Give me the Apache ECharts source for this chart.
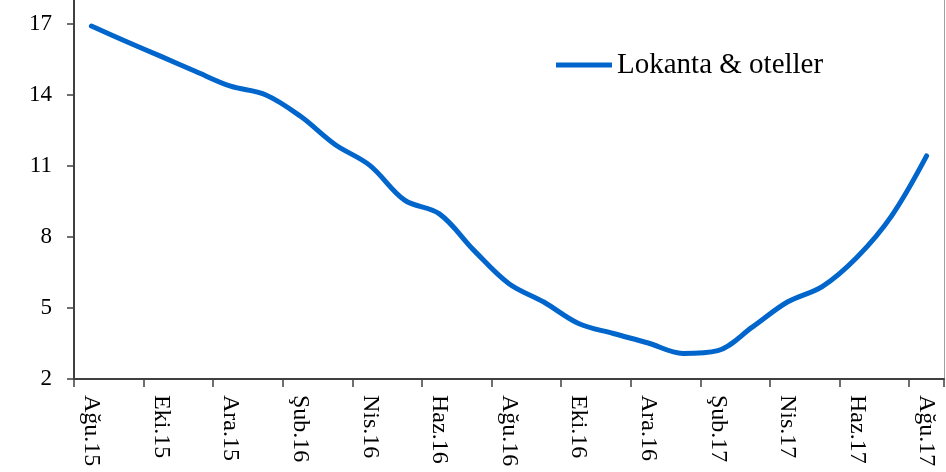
<!DOCTYPE html>
<html>
<head>
<meta charset="utf-8">
<script src="https://cdn.jsdelivr.net/npm/echarts@6/dist/echarts.min.js"></script>
<style>
  html, body { margin: 0; padding: 0; background: #fff; }
  #chart { width: 946px; height: 472px; }
</style>
</head>
<body>
<div id="chart"></div>
<script>
// aylar (Ağu.15 - Ağu.17)
var months = ['Ağu.15', 'Eyl.15', 'Eki.15', 'Kas.15', 'Ara.15', 'Oca.16', 'Şub.16', 'Mar.16',
  'Nis.16', 'May.16', 'Haz.16', 'Tem.16', 'Ağu.16', 'Eyl.16', 'Eki.16', 'Kas.16', 'Ara.16',
  'Oca.17', 'Şub.17', 'Mar.17', 'Nis.17', 'May.17', 'Haz.17', 'Tem.17', 'Ağu.17'];
var lokanta = [16.9, 16.25, 15.62, 14.98, 14.36, 14.0, 13.1, 11.9, 11.02, 9.55, 8.97, 7.42,
  6.02, 5.25, 4.34, 3.92, 3.52, 3.08, 3.2, 4.2, 5.25, 5.9, 7.14, 8.9, 11.42];
var seriesName = 'Lokanta & oteller';
var yMin = 2, yMax = 18, yStep = 3;

var font = '"Liberation Serif", "Times New Roman", serif';
var axisColor = '#404040';

var myChart = echarts.init(document.getElementById('chart'));
myChart.setOption({
  animation: false,
  grid: { left: 74, right: 2, top: -2, bottom: 93, containLabel: false },
  legend: {
    data: [seriesName],
    left: 556,
    top: 50,
    padding: 0,
    icon: 'rect',
    itemWidth: 56,
    itemHeight: 5,
    textStyle: { fontFamily: font, fontSize: 29, color: '#000', lineHeight: 30 }
  },
  xAxis: {
    type: 'category',
    data: months,
    boundaryGap: true,
    axisLine: { lineStyle: { color: axisColor, width: 2 } },
    axisTick: { show: true, interval: 1, length: 8, lineStyle: { color: axisColor, width: 1.5 } },
    axisLabel: {
      interval: 1,
      rotate: -90,
      margin: 16,
      fontFamily: font,
      fontSize: 24,
      color: '#000'
    },
    splitLine: { show: false }
  },
  yAxis: [{
    type: 'value',
    min: yMin,
    max: yMax,
    interval: yStep,
    axisLine: { show: true, lineStyle: { color: axisColor, width: 2 } },
    axisTick: { show: true, length: 7, lineStyle: { color: axisColor, width: 1.5 } },
    axisLabel: { margin: 22, fontFamily: font, fontSize: 23, color: '#000', showMaxLabel: false },
    splitLine: { show: false }
  }, {
    type: 'value',
    position: 'right',
    min: yMin,
    max: yMax,
    interval: yStep,
    axisLine: { show: true, lineStyle: { color: '#a0a0a0', width: 1 } },
    axisTick: { show: false },
    axisLabel: { show: false },
    splitLine: { show: false }
  }],
  series: [{
    name: seriesName,
    type: 'line',
    data: lokanta,
    smooth: 0.35,
    showSymbol: false,
    symbol: 'none',
    itemStyle: { color: '#0066cc' },
    lineStyle: { color: '#0066cc', width: 5, cap: 'round', join: 'round' }
  }]
});
</script>
</body>
</html>
